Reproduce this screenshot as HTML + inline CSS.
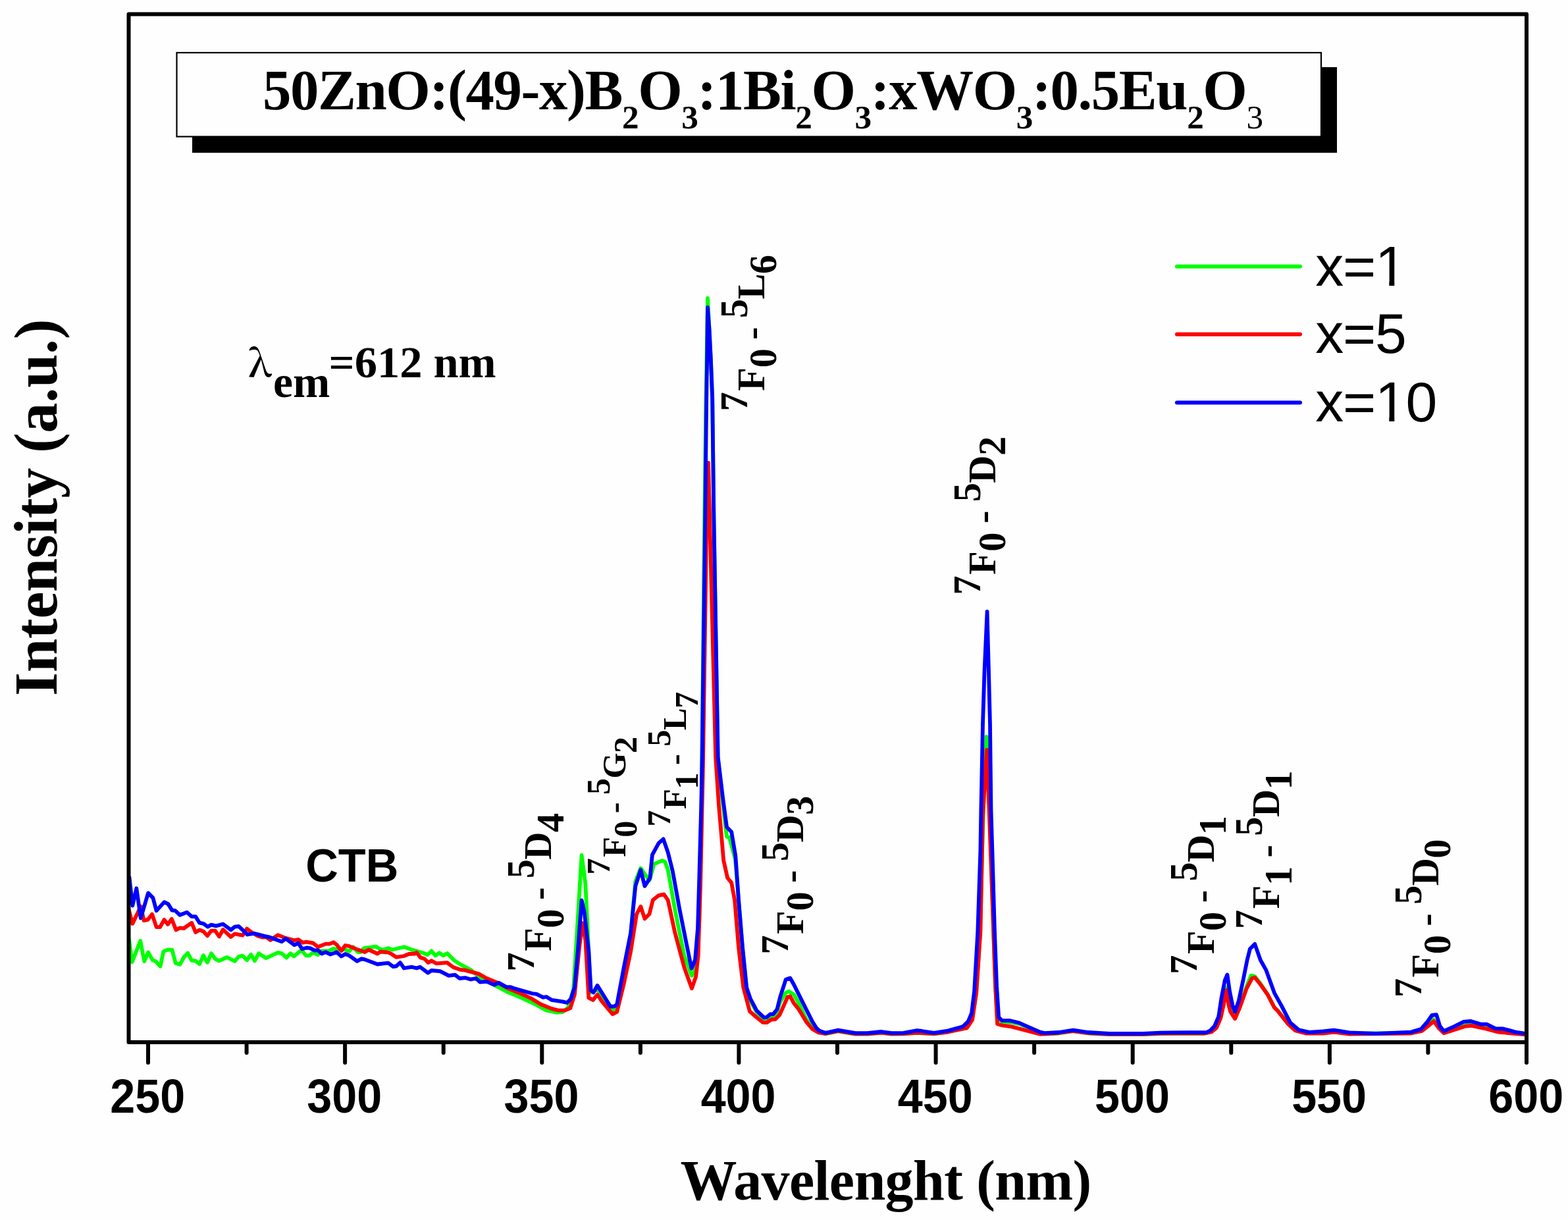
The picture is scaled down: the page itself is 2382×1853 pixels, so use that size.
<!DOCTYPE html>
<html><head><meta charset="utf-8"><title>Excitation spectra</title>
<style>
html,body{margin:0;padding:0;background:#fefefe;overflow:hidden;}
svg{display:block;}
</style></head>
<body>
<svg width="2382" height="1853" viewBox="0 0 2382 1853">
<rect x="0" y="0" width="2382" height="1853" fill="#fefefe"/>
<rect x="292" y="102" width="1739" height="130" fill="#000"/>
<rect x="268.5" y="80" width="1738.5" height="127.5" fill="#fefefe" stroke="#000" stroke-width="2.2"/>
<text x="399" y="166" font-family="&quot;Liberation Serif&quot;, &quot;Times New Roman&quot;, serif" font-weight="bold" font-size="86.8" letter-spacing="-1.4" fill="#000"><tspan>50ZnO:(49-x)B</tspan><tspan dy="29.3" font-size="51.2">2</tspan><tspan dy="-29.3">O</tspan><tspan dy="29.3" font-size="51.2">3</tspan><tspan dy="-29.3">:1Bi</tspan><tspan dy="29.3" font-size="51.2">2</tspan><tspan dy="-29.3">O</tspan><tspan dy="29.3" font-size="51.2">3</tspan><tspan dy="-29.3">:xWO</tspan><tspan dy="29.3" font-size="51.2">3</tspan><tspan dy="-29.3">:0.5Eu</tspan><tspan dy="29.3" font-size="51.2">2</tspan><tspan dy="-29.3">O</tspan><tspan dy="29.3" font-size="51.2" font-weight="normal">3</tspan></text>
<g fill="none" stroke-width="5.8" stroke-linejoin="round" stroke-linecap="round">
<polyline stroke="#00ff00" points="196.0,1426.7 200.7,1461.2 213.2,1429.0 219.2,1460.0 225.1,1446.3 231.7,1458.2 236.4,1460.0 243.6,1467.7 248.3,1445.1 254.3,1442.7 261.4,1442.7 266.8,1463.0 273.3,1464.8 279.3,1454.0 285.2,1447.5 291.2,1458.8 297.1,1459.4 303.1,1464.2 309.0,1451.1 315.0,1461.8 321.0,1448.1 326.9,1456.4 332.9,1459.4 344.8,1454.0 356.7,1460.0 362.6,1452.9 368.6,1451.7 375.1,1458.2 381.1,1449.9 387.0,1459.4 393.0,1448.1 404.3,1455.2 422.1,1446.9 428.1,1448.1 435.2,1454.6 441.2,1448.1 446.5,1452.6 457.9,1443.1 465.0,1451.4 469.8,1451.4 475.7,1446.7 482.9,1450.2 487.6,1444.3 499.5,1444.3 506.7,1440.7 511.4,1442.5 523.3,1441.9 530.5,1444.9 536.4,1438.3 543.6,1446.1 547.1,1446.1 553.1,1440.1 571.0,1437.7 576.9,1441.3 582.9,1442.5 590.0,1440.1 596.0,1442.5 613.8,1438.3 625.7,1442.5 642.4,1447.3 649.5,1450.2 655.5,1444.3 661.4,1451.4 667.4,1447.3 673.3,1451.4 679.3,1447.9 690.0,1458.6 700.0,1465.1 714.7,1472.8 731.2,1486.0 772.4,1507.4 788.9,1514.0 813.6,1525.5 830.0,1534.6 846.5,1537.9 854.8,1537.0 863.0,1530.5 871.2,1502.4 877.8,1395.3 883.6,1299.0 889.4,1342.6 894.3,1444.8 897.6,1507.4 907.5,1502.4 914.0,1512.0 930.6,1535.4 938.8,1529.5 950.0,1470.0 958.0,1420.0 965.3,1338.9 973.3,1318.6 986.5,1337.1 993.6,1312.4 1005.9,1307.1 1010.3,1308.9 1014.7,1321.2 1025.3,1381.2 1039.5,1451.9 1050.9,1481.9 1055.4,1474.8 1062.4,1398.9 1066.0,1200.0 1070.3,780.0 1072.5,605.0 1073.6,540.0 1075.0,453.0 1077.6,500.0 1079.8,545.0 1082.2,605.0 1084.3,780.0 1090.5,1150.0 1097.0,1210.0 1104.0,1270.7 1108.0,1272.0 1117.0,1305.0 1122.0,1367.0 1128.0,1440.0 1134.0,1500.0 1140.0,1520.0 1149.4,1537.0 1160.7,1549.0 1173.9,1544.3 1180.0,1538.0 1185.0,1522.0 1193.7,1508.0 1198.4,1505.7 1205.9,1510.4 1213.4,1523.6 1224.7,1548.0 1234.0,1560.0 1244.6,1567.5 1253.7,1570.3 1273.0,1566.4 1299.5,1570.7 1317.8,1570.7 1338.9,1568.7 1354.5,1570.7 1372.8,1570.3 1393.0,1568.8 1418.6,1570.3 1440.0,1567.5 1468.0,1560.0 1477.0,1548.0 1483.0,1508.0 1489.0,1415.0 1493.5,1240.0 1498.6,1119.0 1503.5,1240.0 1508.0,1380.0 1512.0,1497.0 1515.0,1548.0 1522.0,1552.3 1537.0,1552.8 1550.0,1555.5 1566.0,1562.5 1580.0,1568.5 1586.7,1570.5 1608.5,1569.5 1630.3,1566.2 1653.3,1569.5 1685.4,1571.2 1736.7,1571.2 1762.3,1570.0 1830.0,1569.8 1840.6,1566.5 1848.0,1560.0 1854.4,1545.0 1858.6,1525.0 1863.4,1500.0 1866.6,1525.0 1869.2,1535.0 1876.1,1546.0 1883.0,1530.0 1893.6,1499.0 1900.5,1481.6 1906.3,1483.0 1914.8,1494.0 1925.4,1510.0 1935.9,1530.0 1941.2,1535.0 1957.1,1555.0 1967.7,1565.0 1983.6,1569.0 2010.0,1569.0 2026.4,1567.0 2049.9,1570.0 2143.5,1569.0 2160.0,1565.0 2170.0,1556.0 2177.0,1548.0 2186.0,1561.0 2193.4,1568.5 2226.7,1557.0 2235.7,1556.0 2256.9,1561.5 2276.5,1567.0 2317.3,1571.0"/>
<polyline stroke="#ff0000" points="196.0,1383.0 201.3,1402.9 213.8,1376.7 218.6,1398.1 224.5,1396.9 231.1,1388.6 237.6,1408.2 243.0,1408.2 249.5,1396.9 254.9,1404.0 260.8,1395.7 267.4,1412.4 273.3,1409.4 279.3,1410.0 291.2,1401.7 297.1,1416.0 303.1,1412.4 309.0,1414.8 315.0,1421.3 321.0,1413.6 326.9,1413.6 332.9,1422.5 338.8,1411.8 350.7,1423.1 356.7,1418.3 368.6,1420.7 375.1,1410.6 382.9,1416.5 392.4,1421.9 399.5,1423.7 404.3,1423.1 410.8,1427.9 422.1,1420.1 434.0,1424.9 443.6,1427.3 447.1,1428.2 453.1,1427.0 460.2,1431.8 465.0,1430.6 475.7,1432.4 482.9,1438.3 494.8,1433.6 500.7,1433.6 506.7,1431.2 511.4,1434.8 518.6,1444.3 524.5,1436.0 530.5,1437.1 542.4,1441.9 554.3,1446.1 560.2,1442.5 573.3,1448.5 578.1,1445.5 590.0,1446.7 594.8,1449.0 601.9,1453.8 613.8,1452.0 621.0,1449.0 630.5,1448.5 632.9,1446.7 638.8,1454.4 644.8,1456.2 650.7,1462.1 655.5,1459.2 662.6,1463.3 679.3,1462.1 688.8,1469.3 700.0,1472.9 706.5,1473.6 727.9,1479.4 739.4,1486.0 755.9,1492.6 772.4,1501.6 788.9,1508.2 805.3,1515.6 821.8,1525.5 838.3,1532.1 848.2,1534.6 858.1,1534.6 866.3,1531.3 872.9,1510.7 879.5,1444.8 884.4,1401.9 889.4,1428.3 894.3,1515.6 900.9,1518.9 907.5,1510.7 914.1,1520.6 930.6,1540.3 937.2,1537.0 947.7,1494.2 958.2,1444.8 967.1,1388.3 973.3,1376.8 979.4,1395.4 986.5,1388.3 991.8,1367.1 1000.6,1360.1 1008.6,1358.3 1014.7,1367.1 1025.3,1416.6 1039.5,1469.5 1050.9,1501.3 1057.1,1483.6 1060.6,1451.9 1064.1,1343.1 1068.0,1160.0 1073.6,780.0 1076.0,703.0 1078.0,780.0 1087.1,1150.0 1091.9,1222.4 1099.2,1306.9 1105.2,1333.5 1111.2,1340.7 1116.1,1367.3 1122.1,1439.7 1129.3,1500.1 1139.0,1536.3 1149.4,1545.2 1158.8,1552.8 1164.5,1553.2 1172.0,1548.5 1177.7,1548.1 1184.3,1541.5 1189.0,1531.1 1196.5,1514.2 1200.3,1513.2 1205.9,1523.6 1213.4,1533.0 1224.7,1551.8 1234.2,1563.1 1243.6,1568.5 1253.7,1570.0 1273.0,1566.0 1299.5,1570.4 1317.8,1570.4 1338.9,1568.5 1354.5,1570.4 1372.8,1570.0 1393.0,1568.5 1418.6,1570.0 1440.0,1567.5 1468.8,1561.5 1477.1,1549.1 1483.2,1508.0 1489.4,1415.3 1493.0,1240.0 1499.0,1139.0 1503.0,1240.0 1508.0,1380.0 1512.1,1497.7 1515.1,1555.3 1522.4,1557.4 1536.8,1559.4 1580.0,1570.8 1608.5,1569.0 1630.3,1566.0 1653.3,1569.0 1685.4,1570.8 1736.7,1570.8 1762.3,1569.6 1830.0,1569.5 1840.6,1567.4 1848.0,1561.0 1854.4,1546.2 1858.6,1527.1 1863.4,1503.8 1866.6,1527.1 1869.2,1536.7 1876.1,1547.3 1883.0,1531.4 1893.6,1501.7 1902.0,1485.8 1906.3,1484.8 1914.8,1495.3 1925.4,1510.2 1935.9,1530.3 1941.2,1535.6 1957.1,1555.7 1967.7,1565.3 1983.6,1569.5 2010.0,1569.5 2026.4,1567.5 2049.9,1570.5 2143.5,1569.5 2160.0,1566.0 2170.0,1558.0 2178.3,1551.0 2186.0,1562.0 2193.4,1569.2 2226.7,1558.6 2235.7,1557.8 2256.9,1562.4 2276.5,1567.6 2317.3,1571.4"/>
<polyline stroke="#0000ff" points="196.5,1332.6 201.3,1375.5 207.3,1349.3 213.8,1394.5 225.1,1356.4 232.3,1363.6 237.6,1383.2 249.5,1370.1 255.5,1373.1 261.4,1382.6 266.2,1383.2 273.3,1389.8 284.0,1385.6 291.2,1392.1 297.1,1392.1 303.1,1401.7 309.0,1402.9 315.6,1407.6 321.0,1404.6 328.1,1406.4 338.8,1403.5 350.7,1412.4 356.7,1407.6 362.6,1407.0 369.8,1413.6 375.7,1419.5 386.4,1417.7 401.9,1421.9 410.2,1423.7 428.1,1430.2 434.0,1425.5 443.6,1432.6 447.1,1435.4 453.1,1432.4 459.0,1441.3 466.2,1439.5 471.0,1440.1 478.1,1443.7 482.9,1443.1 488.8,1448.5 494.8,1446.1 501.9,1449.6 511.4,1446.1 518.6,1452.6 524.5,1449.0 530.5,1451.4 542.4,1459.8 549.5,1456.2 554.3,1457.4 573.3,1464.5 582.9,1463.3 590.0,1462.7 597.1,1468.1 601.9,1467.5 607.9,1462.1 613.8,1470.5 625.7,1468.7 632.9,1470.5 638.2,1468.7 650.1,1477.6 655.5,1474.0 668.6,1475.2 681.7,1481.8 691.2,1480.6 698.2,1486.0 706.5,1485.1 714.7,1487.6 723.0,1486.0 729.5,1491.7 739.4,1490.9 751.0,1495.8 757.6,1492.6 769.1,1499.1 775.7,1499.1 782.3,1501.6 797.1,1505.7 808.6,1509.0 815.2,1509.9 825.1,1514.8 830.0,1514.0 838.3,1518.9 854.8,1521.4 861.4,1523.0 867.1,1517.3 872.9,1499.1 877.8,1444.8 883.6,1367.3 887.7,1385.5 894.3,1444.8 897.6,1504.0 901.7,1507.4 907.5,1496.7 914.1,1507.4 927.3,1528.8 933.0,1528.5 937.1,1526.0 947.7,1469.5 958.2,1416.6 965.3,1345.9 973.3,1321.2 979.4,1345.9 987.4,1333.6 990.9,1298.3 1000.6,1280.6 1007.7,1274.4 1014.7,1294.7 1021.8,1323.0 1032.4,1381.2 1043.0,1434.2 1050.5,1471.0 1056.0,1458.0 1060.0,1410.0 1062.0,1343.0 1065.3,1222.0 1066.6,1150.0 1071.3,780.0 1073.2,605.0 1074.2,540.0 1075.0,467.0 1077.5,500.0 1079.8,545.0 1082.2,605.0 1084.3,780.0 1090.7,1150.0 1097.9,1210.4 1104.0,1256.2 1111.2,1263.5 1117.3,1299.7 1122.1,1367.3 1128.1,1439.7 1134.2,1500.1 1140.0,1517.0 1149.4,1534.9 1160.7,1545.7 1164.5,1545.2 1170.1,1540.5 1174.8,1540.1 1180.5,1533.0 1185.2,1514.2 1193.7,1487.8 1200.3,1485.4 1205.9,1495.3 1220.0,1523.6 1234.2,1551.8 1240.0,1561.0 1244.6,1565.6 1253.7,1568.8 1273.0,1564.7 1299.5,1569.2 1317.8,1569.2 1338.9,1567.0 1354.5,1569.2 1372.8,1568.8 1393.0,1565.1 1400.3,1566.0 1418.6,1568.8 1440.0,1565.6 1462.6,1559.4 1470.9,1551.2 1476.0,1538.8 1480.1,1505.9 1485.3,1415.3 1489.4,1291.8 1490.4,1230.0 1493.0,1100.0 1495.5,1020.0 1499.6,929.0 1502.0,1020.0 1504.0,1100.0 1505.5,1230.0 1508.0,1312.4 1511.0,1415.3 1514.1,1497.7 1517.2,1545.0 1522.4,1550.2 1534.7,1550.2 1547.1,1553.2 1563.5,1560.4 1580.0,1567.7 1586.7,1569.2 1608.5,1568.0 1630.3,1564.7 1653.3,1568.0 1685.4,1569.9 1736.7,1569.9 1762.3,1568.6 1832.8,1568.0 1838.5,1565.3 1844.8,1558.9 1851.2,1544.1 1855.4,1516.5 1860.7,1489.0 1864.4,1480.5 1868.1,1505.9 1872.4,1527.1 1876.1,1536.7 1881.9,1519.7 1889.3,1484.8 1894.6,1458.3 1898.9,1441.3 1906.3,1433.9 1914.8,1458.3 1923.2,1473.1 1935.9,1508.1 1946.5,1527.1 1960.3,1553.6 1973.0,1564.2 1988.9,1567.9 2010.0,1566.3 2026.4,1564.6 2049.9,1568.4 2090.7,1569.9 2143.5,1567.6 2158.7,1563.1 2169.2,1551.0 2175.3,1542.0 2182.1,1541.2 2187.4,1558.6 2193.4,1566.1 2208.5,1559.3 2223.6,1551.8 2234.2,1551.0 2249.3,1555.6 2258.4,1555.6 2272.0,1562.4 2282.6,1562.4 2291.6,1564.6 2302.2,1567.6 2317.3,1569.9"/>
</g>
<rect x="195.5" y="21.5" width="2123.5" height="1561.5" fill="none" stroke="#000" stroke-width="6" stroke-linejoin="round"/>
<g stroke="#000" stroke-width="6" stroke-linecap="round">
<line x1="225.0" y1="1583.0" x2="225.0" y2="1614"/><line x1="524.1" y1="1583.0" x2="524.1" y2="1614"/><line x1="823.3" y1="1583.0" x2="823.3" y2="1614"/><line x1="1122.4" y1="1583.0" x2="1122.4" y2="1614"/><line x1="1421.6" y1="1583.0" x2="1421.6" y2="1614"/><line x1="1720.7" y1="1583.0" x2="1720.7" y2="1614"/><line x1="2019.9" y1="1583.0" x2="2019.9" y2="1614"/><line x1="2319.0" y1="1583.0" x2="2319.0" y2="1614"/><line x1="374.6" y1="1583.0" x2="374.6" y2="1599"/><line x1="673.7" y1="1583.0" x2="673.7" y2="1599"/><line x1="972.9" y1="1583.0" x2="972.9" y2="1599"/><line x1="1272.0" y1="1583.0" x2="1272.0" y2="1599"/><line x1="1571.1" y1="1583.0" x2="1571.1" y2="1599"/><line x1="1870.3" y1="1583.0" x2="1870.3" y2="1599"/><line x1="2169.4" y1="1583.0" x2="2169.4" y2="1599"/>
</g>
<g font-family="&quot;Liberation Sans&quot;, Arial, sans-serif" font-weight="bold" font-size="72.7" fill="#000">
<text transform="translate(224.2,1689.5) scale(0.939,1)" text-anchor="middle">250</text><text transform="translate(523.3,1689.5) scale(0.939,1)" text-anchor="middle">300</text><text transform="translate(822.5,1689.5) scale(0.939,1)" text-anchor="middle">350</text><text transform="translate(1121.6,1689.5) scale(0.939,1)" text-anchor="middle">400</text><text transform="translate(1420.8,1689.5) scale(0.939,1)" text-anchor="middle">450</text><text transform="translate(1719.9,1689.5) scale(0.939,1)" text-anchor="middle">500</text><text transform="translate(2019.1,1689.5) scale(0.939,1)" text-anchor="middle">550</text><text transform="translate(2318.2,1689.5) scale(0.939,1)" text-anchor="middle">600</text>
</g>
<g stroke-width="6" stroke-linecap="round">
<line x1="1788" y1="404.7" x2="1975" y2="404.7" stroke="#00ff00"/>
<line x1="1788" y1="507.7" x2="1975" y2="507.7" stroke="#ff0000"/>
<line x1="1788" y1="611.4" x2="1975" y2="611.4" stroke="#0000ff"/>
</g>
<g font-family="&quot;Liberation Sans&quot;, Arial, sans-serif" font-size="86" letter-spacing="-1.3" fill="#000">
<text x="1998.3" y="433.5">x=1</text>
<text x="1998.3" y="536.3">x=5</text>
<text x="1998.3" y="640">x=10</text>
</g>
<g fill="#fefefe">
<rect x="2094" y="426.4" width="16.3" height="8.5"/><rect x="2118.3" y="426.4" width="16.5" height="8.5"/>
<rect x="2094" y="632.9" width="16.3" height="8.5"/><rect x="2118.3" y="632.9" width="16.5" height="8.5"/>
</g>
<text transform="translate(377.1,571.8) scale(1.042,1)" font-family="&quot;Noto Serif CJK SC&quot;, &quot;Liberation Serif&quot;, &quot;Times New Roman&quot;, serif" font-weight="600" font-size="56.6" fill="#000">λ</text>
<text x="415.1" y="602.7" font-family="&quot;Liberation Serif&quot;, &quot;Times New Roman&quot;, serif" font-weight="bold" font-size="67.5" fill="#000">em</text>
<text x="499.6" y="572.5" font-family="&quot;Liberation Serif&quot;, &quot;Times New Roman&quot;, serif" font-weight="bold" font-size="68.5" fill="#000">=612 nm</text>
<text transform="translate(464.2,1339) scale(0.964,1)" font-family="&quot;Liberation Sans&quot;, Arial, sans-serif" font-weight="bold" font-size="71.2" fill="#000">CTB</text>
<g font-family="&quot;Liberation Serif&quot;, &quot;Times New Roman&quot;, serif" font-weight="bold" fill="#000">
<text transform="translate(836.8,1444.8) rotate(-90)" font-size="58.4" letter-spacing="-0.6"><tspan x="-30.7" y="-25.8">7</tspan><tspan x="0" y="0">F</tspan><tspan y="18.9">0</tspan><tspan y="0"> - </tspan><tspan y="-25.8">5</tspan><tspan y="0">D</tspan><tspan y="18.9">4</tspan></text><text transform="translate(949.9,1301.8) rotate(-90)" font-size="50.3" letter-spacing="-0.6"><tspan x="-26.6" y="-24.1">7</tspan><tspan x="0" y="0">F</tspan><tspan y="17.5">0</tspan><tspan y="0"> - </tspan><tspan y="-24.1">5</tspan><tspan y="0">G</tspan><tspan y="17.5">2</tspan></text><text transform="translate(1042.3,1228.9) rotate(-90)" font-size="50.5" letter-spacing="-0.6"><tspan x="-26.8" y="-24.4">7</tspan><tspan x="0" y="0">F</tspan><tspan y="17.4">1</tspan><tspan y="0"> - </tspan><tspan y="-24.4">5</tspan><tspan y="0">L</tspan><tspan y="17.4">7</tspan></text><text transform="translate(1160.6,593.7) rotate(-90)" font-size="58.4" letter-spacing="-0.6"><tspan x="-30.7" y="-25.9">7</tspan><tspan x="0" y="0">F</tspan><tspan y="18.6">0</tspan><tspan y="0"> - </tspan><tspan y="-25.9">5</tspan><tspan y="0">L</tspan><tspan y="18.6">6</tspan></text><text transform="translate(1219.5,1418.7) rotate(-90)" font-size="58.4" letter-spacing="-0.6"><tspan x="-30.7" y="-22.7">7</tspan><tspan x="0" y="0">F</tspan><tspan y="15.5">0</tspan><tspan y="0"> - </tspan><tspan y="-22.7">5</tspan><tspan y="0">D</tspan><tspan y="15.5">3</tspan></text><text transform="translate(1511.5,872.8) rotate(-90)" font-size="58.4" letter-spacing="-0.6"><tspan x="-30.7" y="-22.6">7</tspan><tspan x="0" y="0">F</tspan><tspan y="15.9">0</tspan><tspan y="0"> - </tspan><tspan y="-22.6">5</tspan><tspan y="0">D</tspan><tspan y="15.9">2</tspan></text><text transform="translate(1843.9,1449.0) rotate(-90)" font-size="58.4" letter-spacing="-0.6"><tspan x="-30.7" y="-26.2">7</tspan><tspan x="0" y="0">F</tspan><tspan y="18.5">0</tspan><tspan y="0"> - </tspan><tspan y="-26.2">5</tspan><tspan y="0">D</tspan><tspan y="18.5">1</tspan></text><text transform="translate(1942.7,1380.2) rotate(-90)" font-size="58.4" letter-spacing="-0.6"><tspan x="-30.7" y="-25.9">7</tspan><tspan x="0" y="0">F</tspan><tspan y="18.8">1</tspan><tspan y="0"> - </tspan><tspan y="-25.9">5</tspan><tspan y="0">D</tspan><tspan y="18.8">1</tspan></text><text transform="translate(2185.0,1484.4) rotate(-90)" font-size="58.4" letter-spacing="-0.6"><tspan x="-30.7" y="-26.0">7</tspan><tspan x="0" y="0">F</tspan><tspan y="17.7">0</tspan><tspan y="0"> - </tspan><tspan y="-26.0">5</tspan><tspan y="0">D</tspan><tspan y="17.7">0</tspan></text>
</g>
<text transform="translate(85.8,1057) rotate(-90)" font-family="&quot;Liberation Serif&quot;, &quot;Times New Roman&quot;, serif" font-weight="bold" font-size="92.5" letter-spacing="-0.37" fill="#000">Intensity (a.u.)</text>
<text x="1033.5" y="1822" font-family="&quot;Liberation Serif&quot;, &quot;Times New Roman&quot;, serif" font-weight="bold" font-size="86.1" letter-spacing="-0.65" fill="#000">Wavelenght (nm)</text>
</svg>
</body></html>
